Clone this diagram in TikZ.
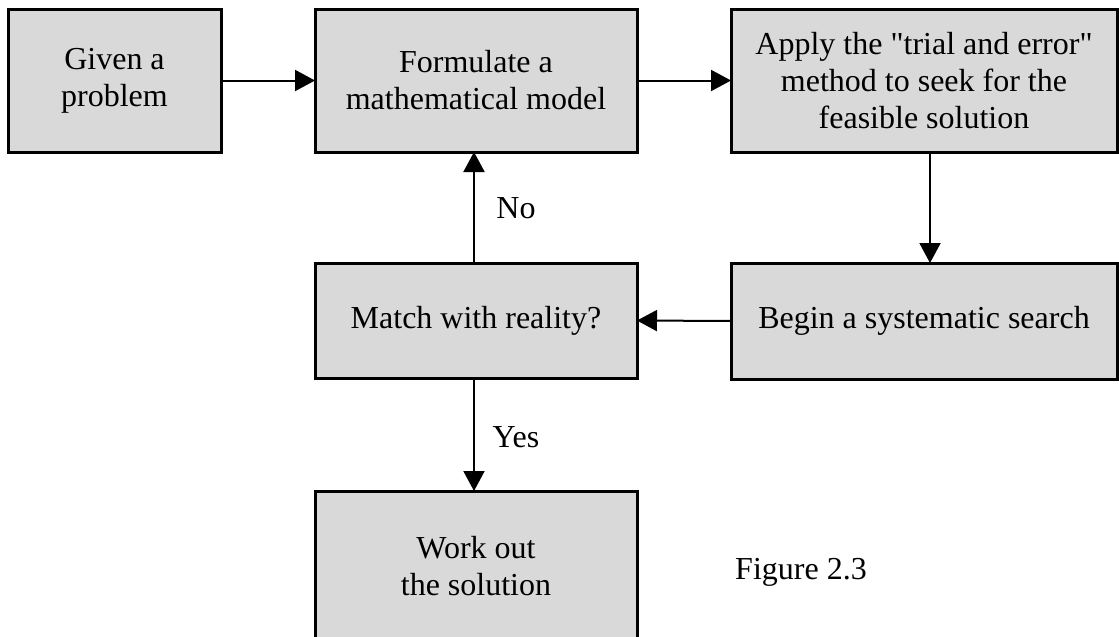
\documentclass[tikz,border=0pt]{standalone}
\usepackage{fontspec}
\setmainfont{Liberation Serif}
\newfontfamily\qfont{Liberation Serif}
\usetikzlibrary{arrows.meta}
\begin{document}
\begin{tikzpicture}[x=1pt,y=-1pt,
  box/.style={draw=black,line width=3pt,fill=boxgray,inner sep=0pt,outer sep=0pt,align=center,
    font=\fontsize{32}{37}\selectfont},
  conn/.style={line width=2pt,-{Triangle[length=20pt,width=21pt]}},
  lbl/.style={font=\fontsize{32}{37}\selectfont,inner sep=0pt}]
\definecolor{boxgray}{HTML}{D9D9D9}
\clip (0,0) rectangle (1119,637);
\fill[white] (0,0) rectangle (1119,637);
\node[box,minimum width=213pt,minimum height=143pt] (b1) at (114.5,80.5) {Given a\\problem};
\node[box,minimum width=322pt,minimum height=143pt] (b2) at (476,80.5) {Formulate a\\mathematical model};
\node[box,minimum width=386pt,minimum height=143pt] (b3) at (924,80.5) {Apply the {\qfont"}trial and error{\qfont"}\\method to seek for the\\feasible solution};
\node[box,minimum width=322pt,minimum height=115pt] (b4) at (476,320.5) {Match with reality?};
\node[box,minimum width=386pt,minimum height=116pt] (b5) at (924,321) {Begin a systematic search};
\node[box,minimum width=322pt,minimum height=150pt] (b6) at (476,566) {Work out\\the solution};
\node[lbl] (no) at (516,208) {No};
\node[lbl] (yes) at (516,437) {Yes};
\node[lbl] (fig) at (801,572) {Figure 2.3};
\draw[conn] (b1.east) -- (b2.west);
\draw[conn] (b2.east) -- (b3.west);
\draw[conn] ([xshift=6pt]b3.south) -- ([xshift=6pt]b5.north);
\draw[conn] (b5.west) -- (b4.east);
\draw[conn] ([xshift=-2pt]b4.north) -- ([xshift=-2pt]b2.south);
\draw[conn] ([xshift=-2pt]b4.south) -- ([xshift=-2pt]b6.north);
\end{tikzpicture}
\end{document}
